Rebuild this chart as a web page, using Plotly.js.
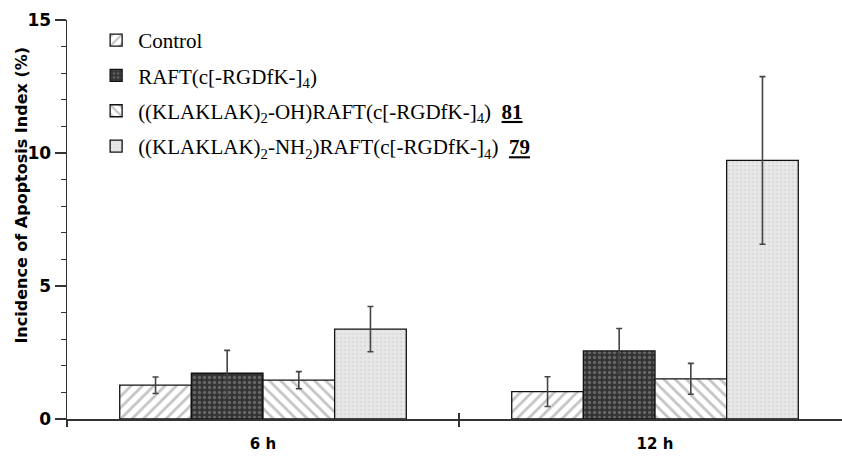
<!DOCTYPE html>
<html><head><meta charset="utf-8">
<script src="https://cdn.plot.ly/plotly-3.0.1.min.js"></script>
<style>html,body{margin:0;padding:0;background:#fff}#chart{width:842px;height:459px}</style>
</head><body><div id="chart"></div>
<script>
const categories = ["6 h", "12 h"];
const seriesNames = [
  "Control",
  "RAFT(c[-RGDfK-]<sub>4</sub>)",
  "((KLAKLAK)<sub>2</sub>-OH)RAFT(c[-RGDfK-]<sub>4</sub>)  <b><u>81</u></b>",
  "((KLAKLAK)<sub>2</sub>-NH<sub>2</sub>)RAFT(c[-RGDfK-]<sub>4</sub>)  <b><u>79</u></b>"
];
const controlVals = [1.27, 1.03];
const controlErr  = [0.31, 0.56];
const raftVals    = [1.72, 2.56];
const raftErr     = [0.86, 0.84];
const ohVals      = [1.46, 1.51];
const ohErr       = [0.32, 0.58];
const nh2Vals     = [3.38, 9.72];
const nh2Err      = [0.85, 3.15];
const yTitle = "Incidence of Apoptosis Index (%)";

const styles = [
  {shape: "/", fg: "#8a8a8a", bg: "#ffffff", size: 8, sol: 0.35},
  {shape: ".", fg: "#9a9a9a", bg: "#333333", size: 5, sol: 0.35},
  {shape: "\\", fg: "#8a8a8a", bg: "#ffffff", size: 8, sol: 0.35},
  {shape: ".", fg: "#cfcfcf", bg: "#e8e8e8", size: 4, sol: 0.3}
];
const vals = [controlVals, raftVals, ohVals, nh2Vals];
const errs = [controlErr, raftErr, ohErr, nh2Err];

const traces = vals.map((v, i) => ({
  type: "bar",
  name: seriesNames[i],
  legendgroup: "g" + i,
  x: categories,
  y: v,
  error_y: {type: "data", array: errs[i], visible: true, color: "#444", thickness: 1.6, width: 3},
  marker: {
    color: styles[i].bg,
    line: {color: "#111", width: 1.3},
    pattern: {shape: styles[i].shape, fgcolor: styles[i].fg, bgcolor: styles[i].bg,
              size: styles[i].size, solidity: styles[i].sol, fillmode: "overlay"}
  }
}));
traces.push({type: "bar", x: categories, y: [0, 0], xaxis: "x2", showlegend: false,
  hoverinfo: "skip", marker: {color: "rgba(0,0,0,0)"}});

const sans = "DejaVu Sans, Arial, sans-serif";
const layout = {
  width: 842, height: 459,
  margin: {l: 67, r: 0, t: 20, b: 40},
  paper_bgcolor: "#fff", plot_bgcolor: "#fff",
  barmode: "group", bargap: 0.269, bargroupgap: 0,
  showlegend: true,
  legend: {x: 0.035, y: 1.0, xanchor: "left", yanchor: "top",
    font: {family: "Liberation Serif, Times New Roman, serif", size: 21, color: "#000"},
    bgcolor: "rgba(0,0,0,0)", traceorder: "grouped", tracegroupgap: 5, itemwidth: 34},
  xaxis: {
    type: "category", range: [-0.5, 1.477], showline: true, linecolor: "#333", linewidth: 1.5,
    ticks: "outside", tickson: "boundaries", ticklen: 6, tickcolor: "#333", tickwidth: 1.5,
    ticklabelstandoff: 10,
    tickfont: {family: sans, size: 15, weight: "bold", color: "#000"},
    showgrid: false, zeroline: false, fixedrange: true
  },
  xaxis2: {
    type: "category", range: [-0.5, 1.477], overlaying: "x", showline: false,
    ticks: "inside", tickson: "boundaries", ticklen: 6, tickcolor: "#333", tickwidth: 1.5,
    showticklabels: false, showgrid: false, zeroline: false
  },
  yaxis: {
    range: [0, 15], tickvals: [0, 5, 10, 15], showline: true, linecolor: "#333", linewidth: 1.5,
    ticks: "outside", ticklen: 11, tickcolor: "#333", tickwidth: 1.5,
    minor: {dtick: 1, ticks: "outside", ticklen: 5, tickcolor: "#333", tickwidth: 1.2, showgrid: false},
    tickfont: {family: sans, size: 17, weight: "bold", color: "#000"},
    showgrid: false, zeroline: false
  },
  annotations: [{
    text: yTitle, textangle: -90, xref: "paper", yref: "paper",
    x: -0.058, y: 0.56, xanchor: "center", yanchor: "middle", showarrow: false,
    font: {family: sans, size: 16, weight: "bold", color: "#000"}
  }]
};
Plotly.newPlot("chart", traces, layout, {staticPlot: true});
</script></body></html>
